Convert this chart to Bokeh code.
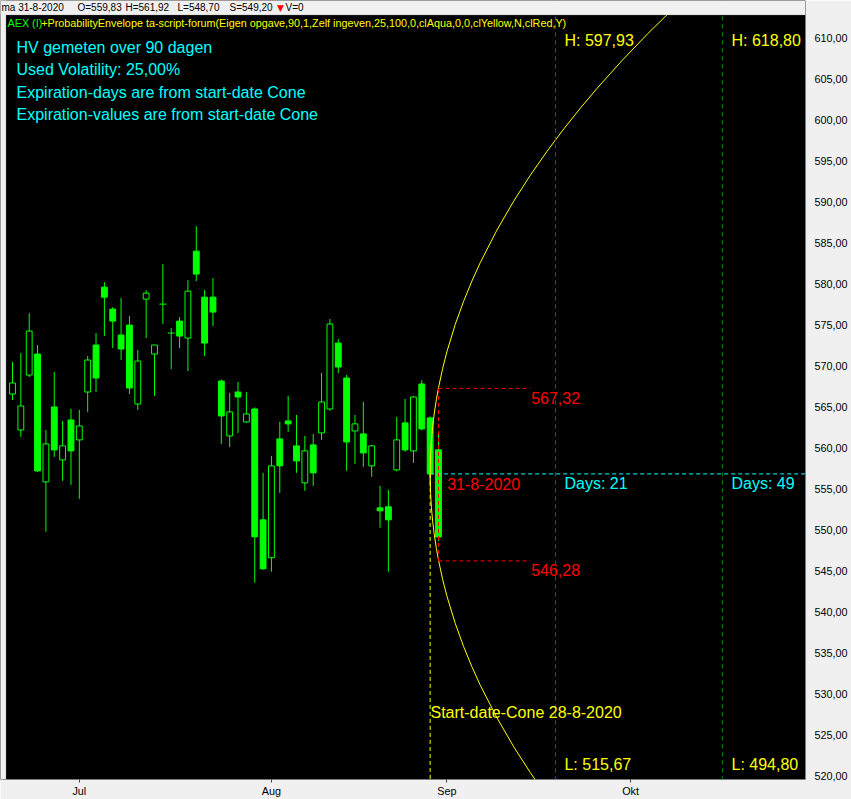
from bokeh.plotting import figure
from bokeh.models import Range1d, FixedTicker, Label, Span, BoxAnnotation
from bokeh.embed import file_html
from bokeh.resources import INLINE

# ---------------- data (AEX daily candles) ----------------
dates = ["19-6-2020", "22-6-2020", "23-6-2020", "24-6-2020", "25-6-2020", "26-6-2020", "29-6-2020", "30-6-2020",
         "1-7-2020", "2-7-2020", "3-7-2020", "6-7-2020", "7-7-2020", "8-7-2020", "9-7-2020", "10-7-2020",
         "13-7-2020", "14-7-2020", "15-7-2020", "16-7-2020", "17-7-2020", "20-7-2020", "21-7-2020", "22-7-2020",
         "23-7-2020", "24-7-2020", "27-7-2020", "28-7-2020", "29-7-2020", "30-7-2020", "31-7-2020",
         "3-8-2020", "4-8-2020", "5-8-2020", "6-8-2020", "7-8-2020", "10-8-2020", "11-8-2020", "12-8-2020",
         "13-8-2020", "14-8-2020", "17-8-2020", "18-8-2020", "19-8-2020", "20-8-2020", "21-8-2020",
         "24-8-2020", "25-8-2020", "26-8-2020", "27-8-2020", "28-8-2020", "31-8-2020"]
opens = [566.64, 562.25, 568.95, 571.51, 555.92, 565.06, 558.60, 563.47, 561.04, 566.88, 572.61, 579.67, 576.99,
         573.83, 575.04, 565.42, 578.21, 571.51, 577.60, 574.07, 575.53, 573.46, 584.06, 578.45, 578.45, 568.22,
         561.52, 566.88, 563.23, 564.81, 551.29, 546.66, 561.16, 563.35, 560.31, 555.80, 560.43, 561.89, 564.81,
         572.85, 568.59, 562.13, 561.77, 557.87, 552.75, 552.88, 557.38, 563.11, 559.70, 567.86, 563.72, 559.83]
highs = [570.54, 571.63, 576.50, 572.61, 562.25, 569.32, 563.35, 564.81, 564.69, 571.27, 574.07, 580.28, 577.24,
         578.33, 576.14, 572.00, 579.31, 572.61, 582.47, 574.68, 576.02, 580.52, 587.10, 579.31, 580.77, 568.40,
         566.76, 568.10, 566.88, 565.00, 557.02, 559.09, 563.23, 566.40, 564.08, 561.52, 561.77, 569.20, 575.77,
         573.34, 568.95, 564.08, 565.66, 560.43, 555.43, 554.95, 563.84, 566.03, 566.40, 568.34, 563.90, 561.92]
lows = [565.91, 561.40, 568.71, 557.10, 549.83, 558.97, 556.04, 555.56, 553.85, 564.45, 566.88, 573.70, 572.24,
        570.78, 566.64, 564.69, 573.46, 566.40, 575.17, 569.68, 572.24, 569.44, 580.40, 571.27, 574.92, 560.55,
        560.18, 561.89, 563.11, 543.62, 545.20, 544.96, 554.58, 562.01, 557.02, 554.82, 555.43, 561.04, 564.60,
        569.20, 557.26, 558.11, 557.75, 556.53, 550.32, 544.96, 557.20, 559.58, 558.23, 562.20, 555.31, 548.70]
closes = [567.98, 565.18, 574.31, 557.26, 560.55, 559.82, 560.31, 559.70, 562.74, 570.78, 568.59, 578.45, 575.53,
          572.12, 567.37, 570.66, 578.94, 572.61, 577.60, 574.07, 573.70, 579.18, 581.26, 572.85, 576.63, 563.96,
          564.45, 566.27, 564.20, 549.22, 545.32, 557.87, 557.87, 562.99, 558.48, 559.70, 557.02, 565.66, 575.17,
          569.93, 560.79, 562.99, 559.45, 560.31, 552.39, 551.29, 561.04, 559.82, 566.27, 562.38, 556.89, 549.20]

# month labels on the trading-day axis (first trading day of each month)
month_tick_index = [8, 31, 52, 74]
month_labels = ["Jul", "Aug", "Sep", "Okt"]
price_ticks = [520, 525, 530, 535, 540, 545, 550, 555, 560, 565, 570, 575, 580, 585, 590, 595, 600, 605, 610]

# probability envelope (cone) from start date 28-8-2020
cone_start_date = "28-8-2020"
last_date = "31-8-2020"
expiry_days = [21, 49]
expiry_trading_offset = [15, 35]
expiry_high = [597.93, 618.80]
expiry_low = [515.67, 494.80]
last_day_high = 567.32
last_day_low = 546.28
cone_up_offset = [0, 0.05, 0.15, 0.3, 0.5, 0.75, 1, 1.5, 2, 3, 4, 5, 6, 8, 10, 12, 14, 16, 18, 20, 23, 26, 29]
cone_upper = [556.89, 559.24, 560.96, 562.65, 564.33, 566.00, 567.41, 569.77, 571.77, 575.11, 577.93, 580.41,
              582.66, 586.64, 590.16, 593.33, 596.25, 598.97, 601.52, 603.94, 607.34, 610.53, 613.54]
cone_low_offset = [0, 0.05, 0.15, 0.3, 0.5, 0.75, 1, 1.5, 2, 3, 4, 5, 6, 8, 10, 12, 14]
cone_lower = [556.89, 554.54, 552.82, 551.13, 549.45, 547.78, 546.37, 544.01, 542.01, 538.67, 535.85, 533.37,
              531.12, 527.14, 523.62, 520.45, 517.53]

info_lines = ["HV gemeten over 90 dagen", "Used Volatility: 25,00%",
              "Expiration-days are from start-date Cone", "Expiration-values are from start-date Cone"]

# ---------------- styling constants ----------------
LIME = "#00FF00"
YELLOW = "#FFFF00"
CYAN = "#00FFFF"
RED = "#FF0000"
DKGREEN = "#008000"
PANEL = "#F0F0F0"
FONT = "Liberation Sans"
PX = 8.353                      # pixels per trading day
X0 = -12 / PX
X1 = X0 + 805 / PX
Y0, Y1 = 519.62, 614.63
CHART_TOP = 612.86              # top edge of the black chart area
CHART_LEFT = X0 + 5.5 / PX      # left edge of the black chart area

p = figure(width=851, height=799, x_range=Range1d(X0, X1), y_range=Range1d(Y0, Y1),
           y_axis_location="right", output_backend="svg", toolbar_location=None,
           min_border_left=0, min_border_right=46, min_border_top=0, min_border_bottom=19,
           background_fill_color="black", border_fill_color=PANEL, outline_line_color=None)
p.xgrid.visible = False
p.ygrid.visible = False

# axes
p.yaxis.ticker = FixedTicker(ticks=price_ticks)
p.yaxis.major_label_overrides = {t: f"{t:.2f}".replace(".", ",") for t in price_ticks}
p.xaxis.ticker = FixedTicker(ticks=month_tick_index)
p.xaxis.major_label_overrides = dict(zip(month_tick_index, month_labels))
for ax in (p.xaxis[0], p.yaxis[0]):
    ax.axis_line_color = None
    ax.minor_tick_line_color = None
    ax.major_label_text_font = FONT
    ax.major_label_text_font_size = "10.8px"
    ax.major_label_text_color = "black"
    ax.major_tick_in = 0
p.yaxis.major_tick_line_color = None
p.yaxis.major_label_standoff = 3
p.xaxis.major_tick_out = 3
p.xaxis.major_tick_line_color = "#404040"
p.xaxis.major_label_standoff = 2

# ---------------- candles ----------------
idx = list(range(len(dates)))
up = [i for i in idx if closes[i] > opens[i]]
down = [i for i in idx if closes[i] < opens[i]]
doji = [i for i in idx if closes[i] == opens[i]]
BW = 0.7

p.segment(x0=idx, y0=lows, x1=idx, y1=highs, line_color=LIME, line_width=1)
p.vbar(x=down, top=[opens[i] for i in down], bottom=[closes[i] for i in down], width=BW,
       fill_color=LIME, line_color=LIME, line_width=1)
p.vbar(x=up, top=[closes[i] for i in up], bottom=[opens[i] for i in up], width=BW,
       fill_color="black", line_color=LIME, line_width=1)
p.segment(x0=[i - 0.42 for i in doji], y0=[opens[i] for i in doji],
          x1=[i + 0.42 for i in doji], y1=[closes[i] for i in doji], line_color=LIME, line_width=1)

# ---------------- envelope ----------------
s = dates.index(cone_start_date)
last = dates.index(last_date)
start_close = closes[s]

for off in expiry_trading_offset:
    p.add_layout(Span(location=s + off, dimension="height", line_color=DKGREEN,
                      line_dash="4 4", line_width=1))

p.segment(x0=[s], y0=[start_close], x1=[X1 + 1], y1=[start_close], line_color=CYAN,
          line_dash="4 3", line_width=1)
p.segment(x0=[s], y0=[start_close], x1=[s], y1=[Y0 - 1], line_color=YELLOW,
          line_dash="4 3", line_width=1)

p.line(x=[s + o for o in cone_up_offset], y=cone_upper, line_color=YELLOW, line_width=1)
p.line(x=[s + o for o in cone_low_offset], y=cone_lower, line_color=YELLOW, line_width=1)

red_end = last + 11
p.segment(x0=[last, last, last], y0=[last_day_low, last_day_high, last_day_low],
          x1=[last, red_end, red_end], y1=[last_day_high, last_day_high, last_day_low],
          line_color=RED, line_dash="4 3", line_width=1)

# ---------------- window chrome: grey quote strip on top, grey strip at left ----------------
p.add_layout(BoxAnnotation(left=X0, right=X1, bottom=CHART_TOP, top=Y1, fill_color=PANEL,
                           fill_alpha=1, line_color=None))
p.add_layout(BoxAnnotation(left=X0, right=CHART_LEFT, bottom=Y0, top=Y1, fill_color=PANEL,
                           fill_alpha=1, line_color=None))
p.add_layout(BoxAnnotation(left=CHART_LEFT, right=X1, bottom=Y0, top=CHART_TOP, fill_alpha=0,
                           line_color="#808080", line_width=1))


def lab(x, y, text, color, size="16px", font=FONT, align="left"):
    p.add_layout(Label(x=x, y=y, text=text, text_color=color, text_font=font,
                       text_font_size=size, text_baseline="middle", text_align=align))


# info text
for k, line in enumerate(info_lines):
    lab(0.48, [608.90, 606.22, 603.36, 600.74][k], line, CYAN)

# expiry labels
for k, off in enumerate(expiry_trading_offset):
    x = s + off + 1.08
    lab(x, 609.8, "H: " + f"{expiry_high[k]:.2f}".replace(".", ","), YELLOW)
    lab(x, 521.42, "L: " + f"{expiry_low[k]:.2f}".replace(".", ","), YELLOW)
    lab(x, 555.68, f"Days: {expiry_days[k]}", CYAN)

lab(last + 1.04, 555.68, last_date, RED)
lab(red_end + 0.09, 566.15, f"{last_day_high:.2f}".replace(".", ","), RED)
lab(red_end + 0.09, 545.20, f"{last_day_low:.2f}".replace(".", ","), RED)
lab(s + 0.04, 527.75, "Start-date-Cone " + cone_start_date, YELLOW)

# header inside the chart
lab(-0.6, 611.89, "AEX (I)", LIME, size="10.8px")
lab(3.43, 611.89, "+ProbabilityEnvelope ta-script-forum(Eigen opgave,90,1,Zelf ingeven,25,100,0,"
    "clAqua,0,0,clYellow,N,clRed,Y)", YELLOW, size="10.8px")

# quote line above the chart (each field placed separately)
o, h, l, c = opens[last], highs[last], lows[last], closes[last]
fmt = lambda v: f"{v:.2f}".replace(".", ",")
quote_parts = [f"ma {last_date}", f"O={fmt(o)}", f"H={fmt(h)}", f"L={fmt(l)}", f"S={fmt(c)}"]
quote_px = [1, 77, 125, 177, 229]
for txt, px in zip(quote_parts, quote_px):
    lab(X0 + px / PX, 613.78, txt, "black", size="10px")
lab(X0 + 280 / PX, 613.70, "\u25bc", RED, size="9px", font="DejaVu Sans", align="center")
lab(X0 + 285 / PX, 613.78, "V=0", "black", size="10px")

open("out.html", "w").write(file_html(p, INLINE))
